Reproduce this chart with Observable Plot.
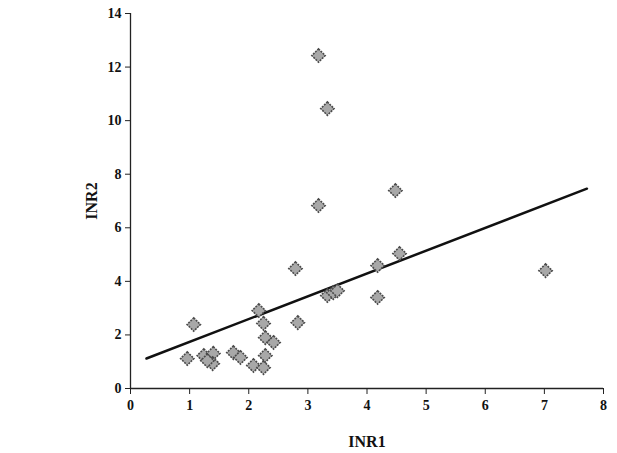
<!DOCTYPE html>
<html>
<head>
<meta charset="utf-8">
<script src="https://cdn.jsdelivr.net/npm/d3@7"></script>
<script src="https://cdn.jsdelivr.net/npm/@observablehq/plot@0.6"></script>
<style>
  body { margin: 0; background: #ffffff; }
  svg { font-family: "Liberation Serif", "DejaVu Serif", serif; }
</style>
</head>
<body>
<div id="chart"></div>
<script>
// INR1 / INR2 pairs
const inr1 = [0.96, 1.07, 1.24, 1.40, 1.39, 1.30, 1.74, 1.86, 2.08, 2.25, 2.28, 2.17, 2.25, 2.28, 2.42, 2.79, 2.83, 3.33, 3.43, 3.50, 4.18, 4.18, 4.55, 3.18, 3.33, 3.18, 4.48, 7.02];
const inr2 = [1.12, 2.39, 1.23, 1.31, 0.93, 1.04, 1.34, 1.16, 0.86, 0.78, 1.23, 2.91, 2.43, 1.90, 1.72, 4.48, 2.46, 3.47, 3.58, 3.65, 3.40, 4.59, 5.04, 12.43, 10.45, 6.83, 7.39, 4.40];
// trend line endpoints
const trendX = [0.27, 7.72];
const trendY = [1.12, 7.46];
const xTicks = [0, 1, 2, 3, 4, 5, 6, 7, 8];
const yTicks = [0, 2, 4, 6, 8, 10, 12, 14];

const points = inr1.map((x, i) => ({x, y: inr2[i]}));
const trend = trendX.map((x, i) => ({x, y: trendY[i]}));

const chart = Plot.plot({
  width: 617,
  height: 453,
  marginLeft: 130,
  marginRight: 14,
  marginTop: 13,
  marginBottom: 65,
  style: {fontFamily: "Liberation Serif, serif", fontSize: "14px", background: "#ffffff", color: "#111"},
  x: {domain: [0, 8]},
  y: {domain: [0, 14]},
  marks: [
    Plot.axisX({ticks: xTicks, tickSize: 6, tickPadding: 6, fontWeight: "bold", fontSize: 14, stroke: "#222",
      label: "INR1", labelAnchor: "center", labelArrow: "none", labelOffset: 58}),
    Plot.axisY({ticks: yTicks, tickSize: 5, tickPadding: 4, fontWeight: "bold", fontSize: 14, stroke: "#222",
      label: "INR2", labelAnchor: "center", labelArrow: "none", labelOffset: 45}),
    Plot.ruleX([0], {stroke: "#222", strokeWidth: 1.3}),
    Plot.ruleY([0], {stroke: "#222", strokeWidth: 1.3}),
    Plot.line(trend, {x: "x", y: "y", stroke: "#111", strokeWidth: 2.5}),
    Plot.dot(points, {x: "x", y: "y", symbol: "diamond2", r: 6, fill: "#a8a8a8", stroke: "#4a4a4a", strokeWidth: 1.6, strokeDasharray: "2,1"})
  ]
});
// bold axis labels
chart.querySelectorAll('[aria-label$="axis label"]').forEach(g => {
  g.setAttribute("font-weight", "bold");
  g.setAttribute("font-size", "16");
});
document.getElementById("chart").appendChild(chart);
</script>
</body>
</html>
